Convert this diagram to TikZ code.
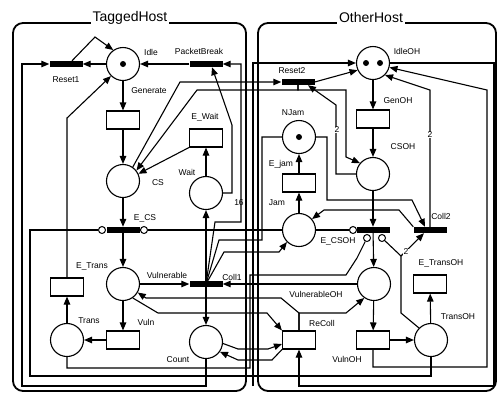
\documentclass[tikz,border=0pt]{standalone}
\usepackage{fontspec}
\setmainfont{Liberation Sans}
\usetikzlibrary{arrows.meta}
\begin{document}
\begin{tikzpicture}[x=1pt,y=-1pt,
  every node/.style={font=\fontsize{8.5}{10}\selectfont},
  pl/.style={draw,circle,line width=1.1pt,minimum size=33pt,inner sep=0pt},
  trect/.style={draw,rectangle,line width=1.1pt,minimum width=33pt,minimum height=18pt,inner sep=0pt},
  tbar/.style={fill=black,rectangle,minimum width=33pt,minimum height=6pt,inner sep=0pt},
  tok/.style={fill=black,circle,minimum size=6pt,inner sep=0pt},
  inh/.style={draw,circle,fill=white,line width=1pt,minimum size=7pt,inner sep=0pt},
  parc/.style={line width=1.1pt,-{Triangle[length=8pt,width=6.5pt]}},
  wire/.style={line width=1.1pt},
  lbl/.style={inner sep=0.5pt},
  wlbl/.style={inner sep=0.5pt,fill=white},
  hostbox/.style={line width=1.8pt,rounded corners=10pt},
  htitle/.style={font=\fontsize{14}{16}\selectfont,fill=white,inner sep=2pt}]
\useasboundingbox (0,0) rectangle (499,392);
% host boxes
\draw[hostbox] (13,23) rectangle (246,391);
\draw[hostbox] (258,23) rectangle (496,391);
\node[htitle] (tTH) at (130,18) {TaggedHost};
\node[htitle] (tOH) at (371,17) {OtherHost};
% places
\node[pl] (Idle) at (123,64) {};
\node[tok] (tIdle) at (Idle) {};
\node[pl] (CS) at (123,181) {};
\node[pl] (Wait) at (206,193) {};
\node[pl] (Vul) at (123,284) {};
\node[pl] (Trans) at (67,340) {};
\node[pl] (Count) at (206,342) {};
\node[pl] (IdleOH) at (373,63) {};
\node[tok] (tOH1) at (366,63) {};
\node[tok] (tOH2) at (380,63) {};
\node[pl] (NJam) at (299,137) {};
\node[tok] (tNJ) at (NJam) {};
\node[pl] (CSOH) at (373,174) {};
\node[pl] (JamP) at (299,230) {};
\node[pl] (VulOH) at (374,284) {};
\node[pl] (TransOH) at (431,340) {};
% bars
\node[tbar] (Reset1) at (66,64) {};
\node[tbar] (PB) at (206,64) {};
\node[tbar] (Reset2) at (298,82) {};
\node[tbar] (ECS) at (123,230) {};
\node[tbar] (Coll1) at (206,284) {};
\node[tbar] (ECSOH) at (373,230) {};
\node[tbar] (Coll2) at (430,230) {};
% timed transitions
\node[trect] (GenR) at (123,120) {};
\node[trect] (EWait) at (206,138) {};
\node[trect] (ETrans) at (67,287) {};
\node[trect] (VulnR) at (123,340) {};
\node[trect] (GenOHR) at (373,119) {};
\node[trect] (JamR) at (299,183) {};
\node[trect] (ETransOH) at (430,284) {};
\node[trect] (VulnOHR) at (373,340) {};
\node[trect] (ReColl) at (299,340) {};
% inhibitor circles
\node[inh] (i1) at (102,230) {};
\node[inh] (i2) at (144,230) {};
\node[inh] (i3) at (353,230) {};
\node[inh] (i4) at (367,238) {};
\node[inh] (i5) at (382,238) {};
% ---- TaggedHost arcs
\draw[parc] (Idle) -- (GenR);
\draw[parc] (GenR) -- (CS);
\draw[parc] (CS) -- (ECS);
\draw[parc] (ECS) -- (Vul);
\draw[parc] (Vul) -- (Coll1);
\draw[parc] (Vul) -- (VulnR);
\draw[parc] (VulnR) -- (Trans);
\draw[parc] (Trans) -- (ETrans);
\draw[parc] (ETrans.north) -- (67,118) -- (Idle.225);
\draw[parc] (Idle) -- (Reset1);
\draw[parc] ([xshift=6pt]Reset1.north) -- (95,37) -- (Idle.125);
\draw[parc] (Count.south) -- (206,386) -- (22,386) -- (22,64) -- (Reset1.west);
\draw[parc] (PB) -- (Idle);
\draw[parc] (Coll1.center) -- (215,222) -- (241,222) -- (241,64) -- (PB.east);
\draw[parc] (Wait) -- (EWait);
\draw[parc] (EWait.south west) -- (CS.25);
\draw[parc] (Wait.east) -- (232,193) -- (232,125) -- ([xshift=6pt]PB.south);
\draw[parc] (Coll1) -- (Wait);
\draw[parc] (Coll1) -- (Count);
\draw[parc] (CS.55) -- (180,82) -- (Reset2.west);
\draw[parc] (Reset2.south) -- (298,90) -- (197,90) -- (CS.38);
\draw[parc] (Reset2.south) -- (298,90) -- (346,90) -- (346,157) -- (CSOH.140);
\draw[wire] (TransOH.south) -- (431,376) -- (30,376) -- (30,230) -- (i1);
\draw[wire] (ECS) -- (i2);
\draw[wire] (i2) -- (JamP);
\draw[parc] (Coll1.center) -- (224,252) -- (279,252) -- (JamP.225);
\draw[wire] (NJam.west) -- (262,137) -- (262,240) -- (219,240) -- (Coll1.center);
\draw[parc] (ReColl.north) -- (299,313) -- (281,298) -- (146,298) -- (Vul.-30);
\draw[parc] (ReColl.north) -- (299,313) -- (346,313) -- (VulOH.235);
\draw[parc] (Vul.-55) -- (158,313) -- (267,313) -- (ReColl.north west);
\draw[parc] (VulOH) -- (Coll1);
\draw[parc] (Count.-5) -- (238,349) -- (268,349) -- ([yshift=-4pt]ReColl.west);
\draw[parc] (ReColl.south west) -- (272,360) -- (238,360) -- (Count.-35);
\draw[wire] (Trans.south) -- (67,368) -- (250,368) -- (250,275) -- (346,275) -- (357,258) -- (i4);
% ---- OtherHost arcs
\draw[parc] (VulOH) -- (VulnOHR);
\draw[parc] (VulnOHR) -- (TransOH);
\draw[parc] (TransOH) -- (ETransOH);
\draw[parc] (VulnOHR.south) -- (373,367) -- (487,367) -- (487,90) -- (IdleOH.-15);
\draw[parc] (Coll2.north) -- (430,90) -- (IdleOH.-45);
\draw[parc] (IdleOH.east) -- (494,63) -- (494,386) -- (299,386) -- (ReColl.south);
\coordinate (bj) at (253,386);
\draw[parc] (bj) -- (253,63) -- (IdleOH.west);
\draw[parc] (IdleOH) -- (GenOHR);
\draw[parc] (GenOHR) -- (CSOH);
\draw[parc] (CSOH) -- (ECSOH);
\draw[parc] (ECSOH) -- (VulOH);
\draw[parc] (JamP) -- (JamR);
\draw[parc] (JamR) -- (NJam);
\draw[parc] (Reset2.east) -- (IdleOH.205);
\draw[parc] (CSOH.west) -- (336,174) -- (336,105) -- ([xshift=10pt]Reset2.south);
\draw[wire] (JamP) -- (i3);
\draw[parc] (NJam.east) -- (327,137) -- (327,200) -- (412,200) -- ([xshift=-5pt]Coll2.north);
\draw[parc] (Coll2.north west) -- (399,210) -- (324,210) -- (JamP.40);
\draw[parc] (TransOH.135) -- (401,313) -- (401,256) -- ([xshift=-6pt]Coll2.south);
\draw[wire] (i5) -- (401,256);
% labels
\node[lbl] (lIdle) at (151,52) {Idle};
\node[lbl] (lPB) at (199,51) {PacketBreak};
\node[lbl] (lR1) at (66,80) {Reset1};
\node[lbl] (lGen) at (149,91) {Generate};
\node[lbl] (lEW) at (205,117) {E\_Wait};
\node[lbl] (lW) at (187,172) {Wait};
\node[lbl] (lCS) at (158,183) {CS};
\node[lbl] (l16) at (239,203) {16};
\node[lbl] (lECS) at (145,218) {E\_CS};
\node[lbl] (lET) at (92,266) {E\_Trans};
\node[lbl] (lVul) at (167,275) {Vulnerable};
\node[lbl] (lC1) at (232,277) {Coll1};
\node[lbl] (lTr) at (89,321) {Trans};
\node[lbl] (lVn) at (146,322) {Vuln};
\node[lbl] (lCnt) at (178,360) {Count};
\node[lbl] (lIOH) at (407,51) {IdleOH};
\node[lbl] (lR2) at (292,71) {Reset2};
\node[lbl] (lGOH) at (398,101) {GenOH};
\node[lbl] (lNJ) at (293,113) {NJam};
\node[wlbl] (l2a) at (337,130) {2};
\node[lbl] (lCSOH) at (403,147) {CSOH};
\node[wlbl] (l2b) at (430,135) {2};
\node[lbl] (lEj) at (281,164) {E\_jam};
\node[lbl] (lJam) at (277,203) {Jam};
\node[lbl] (lC2) at (441,216) {Coll2};
\node[lbl] (lECSOH) at (338,241) {E\_CSOH};
\node[wlbl] (l2c) at (406,252) {2};
\node[lbl] (lETOH) at (441,263) {E\_TransOH};
\node[lbl] (lVOH) at (316,294) {VulnerableOH};
\node[lbl] (lTOH) at (458,317) {TransOH};
\node[lbl] (lRC) at (322,323) {ReColl};
\node[lbl] (lVnOH) at (347,359) {VulnOH};
\end{tikzpicture}
\end{document}
